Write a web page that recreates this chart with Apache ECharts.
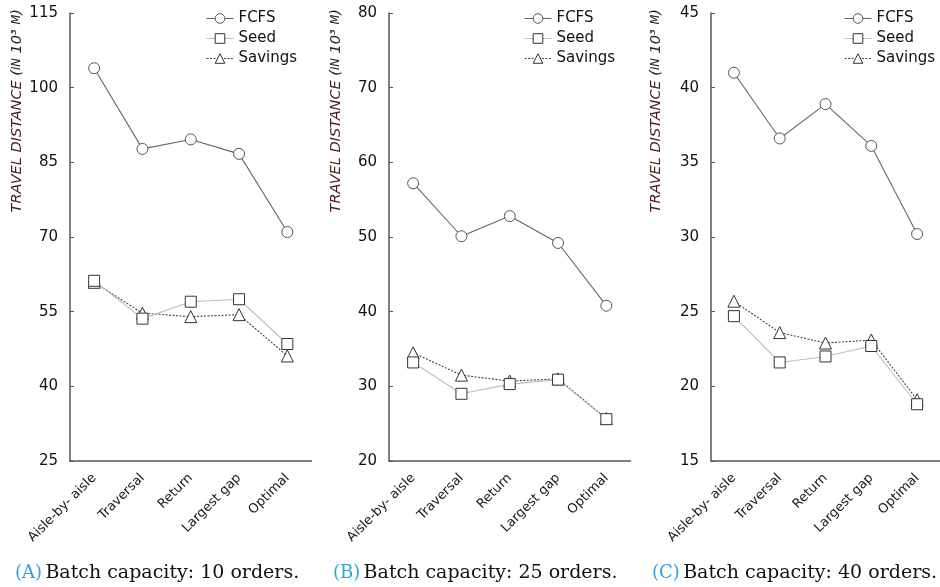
<!DOCTYPE html>
<html>
<head>
<meta charset="utf-8">
<script src="https://cdn.jsdelivr.net/npm/echarts@6/dist/echarts.min.js"></script>
<style>
html,body{margin:0;padding:0;background:#fff;}
#chart{width:940px;height:587px;}
</style>
</head>
<body>
<div id="chart"></div>
<script>
const categories = ['Aisle-by- aisle', 'Traversal', 'Return', 'Largest gap', 'Optimal'];
const seriesNames = ['FCFS', 'Seed', 'Savings'];

const fcfsA = [103.9, 87.7, 89.6, 86.7, 71.0];
const seedA = [61.2, 53.6, 57.0, 57.5, 48.5];
const savingsA = [60.9, 54.7, 54.0, 54.4, 46.1];

const fcfsB = [57.2, 50.1, 52.8, 49.2, 40.8];
const seedB = [33.2, 29.0, 30.3, 30.9, 25.6];
const savingsB = [34.5, 31.5, 30.7, 31.0, 25.7];

const fcfsC = [41.0, 36.6, 38.9, 36.1, 30.2];
const seedC = [24.7, 21.6, 22.0, 22.7, 18.8];
const savingsC = [25.7, 23.6, 22.9, 23.1, 19.1];

const ticksA = [25, 40, 55, 70, 85, 100, 115];
const ticksB = [20, 30, 40, 50, 60, 70, 80];
const ticksC = [15, 20, 25, 30, 35, 40, 45];

const captionLabels = ['(A)', '(B)', '(C)'];
const captionTexts = ['Batch capacity: 10 orders.', 'Batch capacity: 25 orders.', 'Batch capacity: 40 orders.'];

const panels = [
  { left: 70, legendLeft: 201, nameX: 17, capX: 15, ticks: ticksA, data: [fcfsA, seedA, savingsA] },
  { left: 389, legendLeft: 519, nameX: 336, capX: 333, ticks: ticksB, data: [fcfsB, seedB, savingsB] },
  { left: 711, legendLeft: 839, nameX: 656, capX: 652, ticks: ticksC, data: [fcfsC, seedC, savingsC] }
];

const axisColor = '#555';
const font = 'DejaVu Sans';

const styles = [
  { symbol: 'circle', symbolSize: 11, line: { color: '#666', width: 1.1, type: 'solid' }, item: { color: '#fff', borderColor: '#555', borderWidth: 1 } },
  { symbol: 'rect', symbolSize: 11, line: { color: '#bdbdbd', width: 1.1, type: 'solid' }, item: { color: '#fff', borderColor: '#333', borderWidth: 1 } },
  { symbol: 'triangle', symbolSize: 12, line: { color: '#444', width: 1.1, type: [2, 1.5] }, item: { color: '#fff', borderColor: '#333', borderWidth: 1 } }
];

const grid = [], xAxis = [], yAxis = [], series = [], legend = [], graphic = [];

panels.forEach((p, i) => {
  grid.push({ left: p.left, top: 13, width: 241.5, height: 448, containLabel: false });
  xAxis.push({
    type: 'category', gridIndex: i, data: categories, boundaryGap: true,
    axisLine: { lineStyle: { color: axisColor, width: 1.5 } },
    axisTick: { inside: true, length: 4, alignWithLabel: false, lineStyle: { color: axisColor } },
    axisLabel: { rotate: 45, interval: 0, margin: 15, color: '#1a1a1a', fontFamily: font, fontSize: 13 },
    splitLine: { show: false }
  });
  yAxis.push({
    type: 'value', gridIndex: i, min: p.ticks[0], max: p.ticks[p.ticks.length - 1],
    axisLine: { show: true, lineStyle: { color: axisColor, width: 1.5 } },
    axisTick: { show: true, inside: true, length: 4, customValues: p.ticks, lineStyle: { color: axisColor } },
    axisLabel: { customValues: p.ticks, margin: 12, color: '#111', fontFamily: font, fontSize: 15 },
    splitLine: { show: false }
  });
  p.data.forEach((d, k) => {
    const s = styles[k];
    series.push({
      name: seriesNames[k], type: 'line', xAxisIndex: i, yAxisIndex: i, data: d,
      symbol: s.symbol, symbolSize: s.symbolSize, showAllSymbol: true,
      lineStyle: s.line, itemStyle: s.item, z: 3 - k, silent: true
    });
  });
  legend.push({
    data: seriesNames, orient: 'vertical', left: p.legendLeft, top: 6,
    itemWidth: 27, itemHeight: 12, itemGap: 5, itemTextGap: 3,
    itemStyle: { borderWidth: 1 },
    lineStyle: { width: 1 },
    textStyle: { fontFamily: font, fontSize: 15, color: '#111' }
  });
  graphic.push({
    type: 'text', x: p.nameX, y: 9, rotation: Math.PI / 2,
    style: {
      text: '{a|TRAVEL DISTANCE }{b|(}{c|IN}{b| 10³ }{c|M}{b|)}',
      align: 'right', verticalAlign: 'middle',
      rich: {
        a: { fontFamily: font, fontStyle: 'italic', fontSize: 14.5, fill: '#4a1c1c' },
        b: { fontFamily: font, fontStyle: 'italic', fontSize: 14.5, fill: '#222' },
        c: { fontFamily: font, fontStyle: 'italic', fontSize: 11.5, fill: '#222' }
      }
    }
  });
  graphic.push({
    type: 'text', x: p.capX, y: 573,
    style: {
      text: '{l|' + captionLabels[i] + '} {t|' + captionTexts[i] + '}',
      align: 'left', verticalAlign: 'middle',
      rich: {
        l: { fontFamily: 'DejaVu Serif', fontSize: 18, fill: '#2ea3d8' },
        t: { fontFamily: 'DejaVu Serif', fontSize: 19, fill: '#111' }
      }
    }
  });
});

const chart = echarts.init(document.getElementById('chart'), null, { renderer: 'canvas' });
chart.setOption({
  animation: false,
  backgroundColor: '#fff',
  grid, xAxis, yAxis, series, legend, graphic
});
</script>
</body>
</html>
